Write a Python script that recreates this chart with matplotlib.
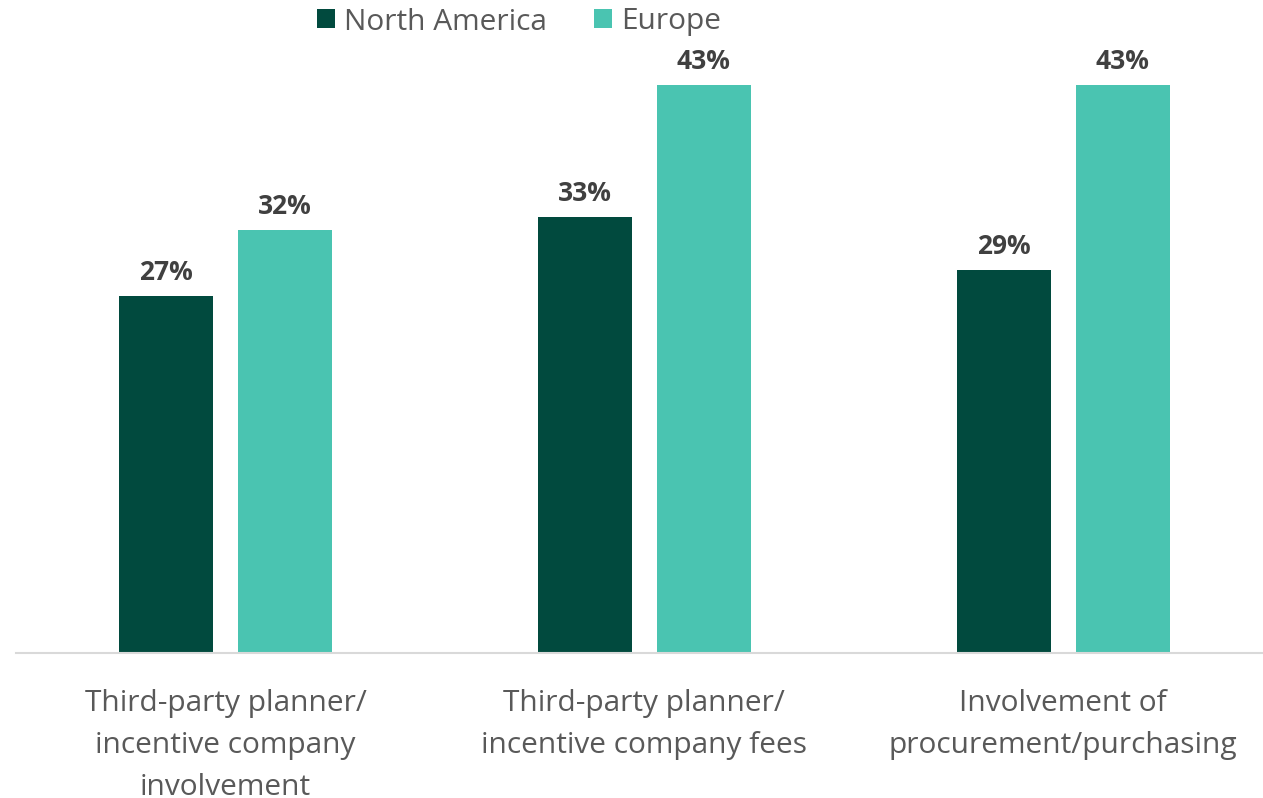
import matplotlib
matplotlib.use('Agg')
import matplotlib.pyplot as plt
import numpy as np

categories = ['Third-party planner/\nincentive company\ninvolvement',
              'Third-party planner/\nincentive company fees',
              'Involvement of\nprocurement/purchasing']
north_america = [27, 33, 29]
europe = [32, 43, 43]

plt.rcParams['font.family'] = ['Open Sans', 'DejaVu Sans']

fig = plt.figure(figsize=(12.63, 7.98), dpi=100)
ax = fig.add_axes([16 / 1263, 1 - 653 / 798, 1 - 16 / 1263, (653 - 45) / 798])

x = np.arange(len(categories))
w = 0.224
off = 0.142

b1 = ax.bar(x - off, north_america, w, color='#014a3e', label='North America')
b2 = ax.bar(x + off, europe, w, color='#4ac4b1', label='Europe')

for bars in (b1, b2):
    ax.bar_label(bars, labels=[f'{v}%' for v in bars.datavalues], padding=7,
                 fontsize=19, fontweight='bold', color='#404040')

ax.set_xlim(-0.5, 2.477)
ax.set_ylim(0, 46)
ax.set_xticks(x)
ax.set_xticklabels(categories, fontsize=21.5, color='#595959', linespacing=1.58)
ax.tick_params(axis='x', length=0, pad=26)
ax.set_yticks([])
for s in ('top', 'right', 'left'):
    ax.spines[s].set_visible(False)
ax.spines['bottom'].set_color('#d9d9d9')
ax.spines['bottom'].set_linewidth(1.5)

fig.legend(loc='center', bbox_to_anchor=(519 / 1263, 1 - 22 / 798), ncol=2,
           frameon=False, fontsize=21.5, labelcolor='#595959',
           handlelength=0.6, handleheight=0.6, handletextpad=0.3, columnspacing=1.6)

fig.savefig('out.png', dpi=100)
